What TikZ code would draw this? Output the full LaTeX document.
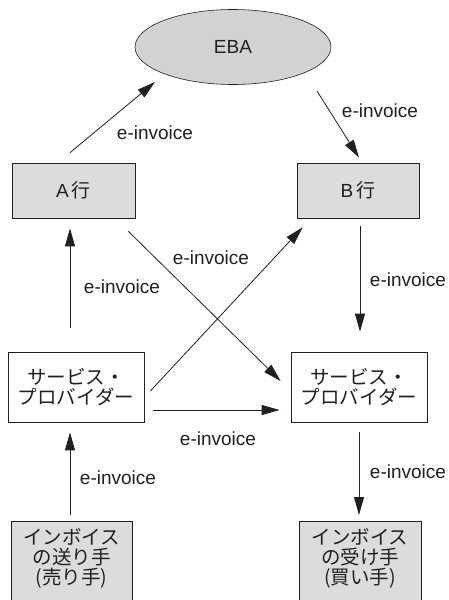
\documentclass[tikz,border=0pt]{standalone}
\usepackage{fontspec}
\setmainfont{Liberation Sans}
\newfontfamily\jp{Noto Sans CJK JP}
\usetikzlibrary{shapes.geometric,arrows.meta,calc}
\definecolor{ink}{HTML}{231F20}
\definecolor{boxgray}{HTML}{DCDCDC}
\definecolor{ellgray}{HTML}{D2D2D2}
\begin{document}
\begin{tikzpicture}[x=1pt,y=-1pt,
  every node/.style={text=ink,font=\fontsize{19}{20}\selectfont},
  bank/.style={draw=ink,line width=0.7pt,fill=boxgray,rectangle,minimum height=55pt,inner sep=0pt},
  spbox/.style={draw=ink,line width=0.7pt,fill=white,rectangle,minimum width=136pt,minimum height=70pt,inner sep=0pt,align=center,font=\fontsize{19.5}{20.5}\selectfont\jp},
  partybox/.style={draw=ink,line width=0.9pt,fill=boxgray,rectangle,anchor=north,minimum height=95pt,inner sep=0pt},
  lbl/.style={inner sep=0pt},
  jptxt/.style={inner sep=0pt,align=center,font=\fontsize{19.5}{20}\selectfont\jp},
  arr/.style={draw=ink,line width=0.8pt,-{Triangle[length=18pt,width=10pt]}}]
\useasboundingbox (0,0) rectangle (448,600);

\node[ellipse,draw=ink,line width=0.6pt,fill=ellgray,minimum width=196pt,minimum height=75pt,inner sep=0pt] (EBA) at (233,47) {EBA};
\node[bank,minimum width=123pt] (A) at (73.5,190.5) {A\hspace{3pt}{\jp 行}};
\node[bank,minimum width=122pt] (B) at (358,190.5) {B\hspace{3pt}{\jp 行}};
\node[spbox] (SPL) at (76,387) {サービス・\\プロバイダー};
\node[spbox] (SPR) at (359,387) {サービス・\\プロバイダー};
\node[partybox,minimum width=121pt] (SL) at (71.5,521) {};
\node[partybox,minimum width=122pt] (SR) at (360,521) {};
\node[jptxt] (SLt) at ([yshift=-37pt]SL.north) {インボイス\\の送り手\\(売り手)};
\node[jptxt] (SRt) at ([yshift=-37pt]SR.north) {インボイス\\の受け手\\(買い手)};

\draw[arr] ($(A.north)+(-3.5,-10)$) -- ($(EBA.center)+(-78,35)$);
\draw[arr] ($(EBA.center)+(84,44)$) -- ($(B.north)+(1,-5)$);
\draw[arr] ($(SPL.north)+(-6,-24)$) -- ($(A.south)+(-3.5,10)$);
\draw[arr] ($(A.south east)+(-7,13)$) -- ($(SPR.west)+(-10,-6)$);
\draw[arr] ($(SPL.east)+(6,4)$) -- ($(B.south west)+(6,9)$);
\draw[arr] ($(SPL.east)+(9,23)$) -- ($(SPR.west)+(-11,23)$);
\draw[arr] ($(B.south)+(2,8)$) -- ($(SPR.north)+(1,-20)$);
\draw[arr] ($(SL.north)+(-1.5,-6)$) -- ($(SPL.south)+(-6,10)$);
\draw[arr] ($(SPR.south)+(0,10)$) -- ($(SR.north)+(-1,-6)$);

\node[lbl] (l1) at (155,133) {e-invoice};
\node[lbl] (l2) at (380,111) {e-invoice};
\node[lbl] (l3) at (211,258) {e-invoice};
\node[lbl] (l4) at (122,287) {e-invoice};
\node[lbl] (l5) at (408,280) {e-invoice};
\node[lbl] (l6) at (218,439) {e-invoice};
\node[lbl] (l7) at (118,478) {e-invoice};
\node[lbl] (l8) at (408,472) {e-invoice};
\end{tikzpicture}
\end{document}
